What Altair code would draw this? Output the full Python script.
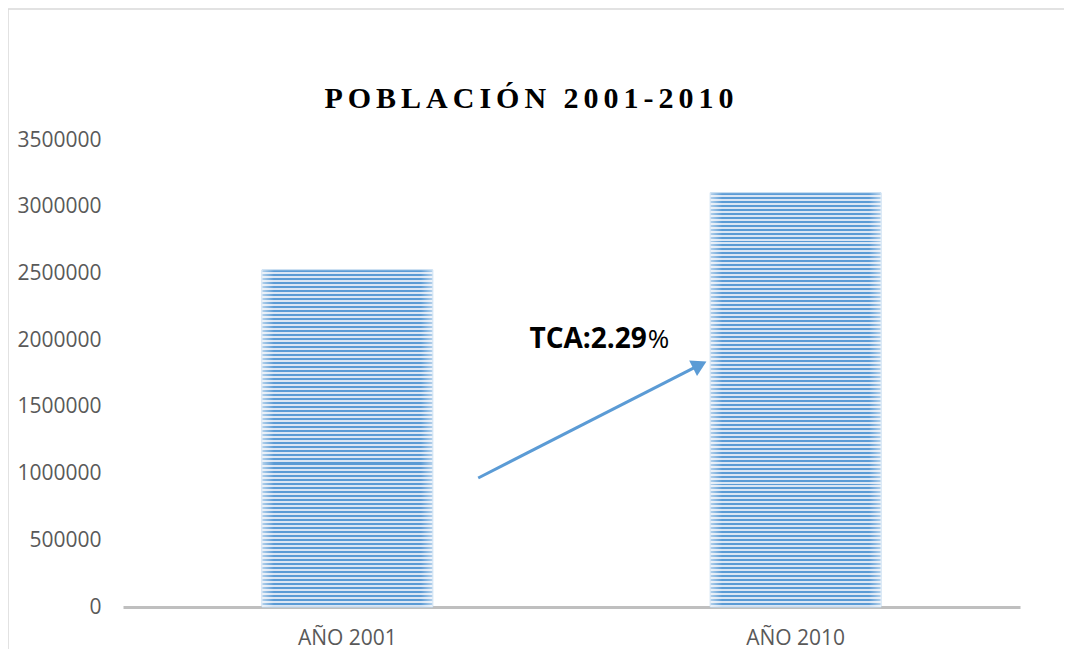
import altair as alt
import pandas as pd

# ---- data ----
categories = ["AÑO 2001", "AÑO 2010"]
population = [2527000, 3105000]
y_ticks = [0, 500000, 1000000, 1500000, 2000000, 2500000, 3000000, 3500000]

arrow_x = [0.396, 0.643]          # fraction of plot width
arrow_y = [967000, 1815000]       # population units
label_x = [0.584]
label_y = [2000000]
title_text_plain = "POBLACIÓN 2001-2010"

W, H = 897, 467
YMAX = 3500000
BLUE = "#5b9bd5"
PALE = "#dbe6f4"

def stripes(value):
    h = value / YMAX * H
    n = max(1, int(round(h / 4.0)))
    stops = [{"offset": 0, "color": "#c5d9ef"}, {"offset": 0.4 / h, "color": "#c5d9ef"}]
    for i in range(n):
        a = i / n
        m = (i + 0.5) / n
        b = (i + 1) / n
        if i == 0:
            a = 0.4 / h
        stops += [
            {"offset": a, "color": BLUE}, {"offset": m, "color": BLUE},
            {"offset": m, "color": PALE}, {"offset": b, "color": PALE},
        ]
    return alt.Gradient(gradient="linear", x1=0, y1=0, x2=0, y2=1, stops=stops)

edge_fade = alt.Gradient(
    gradient="linear", x1=0, y1=0, x2=1, y2=0,
    stops=[
        {"offset": 0, "color": "rgba(255,255,255,0.55)"},
        {"offset": 0.07, "color": "rgba(255,255,255,0)"},
        {"offset": 0.93, "color": "rgba(255,255,255,0)"},
        {"offset": 1, "color": "rgba(255,255,255,0.55)"},
    ],
)

bars_df = pd.DataFrame({"cat": categories, "pop": population})

yaxis = alt.Axis(
    values=y_ticks, format="d", labelFont="Open Sans", labelFontSize=21,
    labelColor="#595959", labelPadding=22, ticks=False, domain=False, grid=False,
)
yscale = alt.Scale(domain=[0, YMAX], nice=False)

xenc = alt.X(
    "cat:N", sort=categories, title=None,
    scale=alt.Scale(paddingInner=0.619, paddingOuter=0.31),
    axis=alt.Axis(
        labelAngle=0, labelFont="Open Sans", labelFontSize=21, labelColor="#595959",
        labelPadding=20, ticks=False, domainColor="#bfbfbf", domainWidth=3,
        labelBaseline="top",
    ),
)
yenc = alt.Y("pop:Q", title=None, scale=yscale, axis=yaxis)

bar_layers = []
for c, v in zip(categories, population):
    bar_layers.append(
        alt.Chart(bars_df).transform_filter(alt.datum.cat == c)
        .mark_bar(fill=stripes(v), stroke="#bdd7ee", strokeWidth=1)
        .encode(x=xenc, y=yenc)
    )
fade = alt.Chart(bars_df).mark_bar(fill=edge_fade).encode(x=xenc, y=yenc)

bars = alt.layer(*bar_layers, fade)

# ---- annotation layer (independent x) ----
ax = alt.X("x:Q", scale=alt.Scale(domain=[0, 1]), axis=None)
ay = alt.Y("y:Q", title=None, scale=yscale, axis=yaxis)

arrow_df = pd.DataFrame({"x": [arrow_x[0]], "y": [arrow_y[0]], "x2": [arrow_x[1]], "y2": [arrow_y[1]]})
arrow_line = alt.Chart(arrow_df).mark_rule(color=BLUE, strokeWidth=3).encode(
    x=ax, y=ay, x2="x2:Q", y2="y2:Q"
)
head_df = pd.DataFrame({"x": [arrow_x[1]], "y": [arrow_y[1]]})
arrow_head = alt.Chart(head_df).mark_point(
    shape="triangle-up", filled=True, color=BLUE, opacity=1, size=300, angle=63
).encode(x=ax, y=ay)

lab_df = pd.DataFrame({"x": label_x, "y": label_y})
lab_bold = alt.Chart(lab_df).mark_text(
    text="TCA:2.29", font="Open Sans", fontWeight="bold", fontSize=28,
    align="right", baseline="middle", color="black",
).encode(x=ax, y=ay)
lab_pct = alt.Chart(lab_df).mark_text(
    text="%", font="Open Sans", fontWeight="normal", fontSize=26,
    align="left", baseline="middle", color="black", dx=1,
).encode(x=ax, y=ay)

T = "\u2006"
words = title_text_plain.split(" ")
title_text = (T + " " + T).join(T.join(w) for w in words)

title_df = pd.DataFrame({"t": [title_text]})
title_mark = alt.Chart(title_df).mark_text(
    font="Liberation Serif", fontWeight="bold", fontSize=30, color="black",
    align="center", baseline="alphabetic",
).encode(text="t:N", x=alt.value(406), y=alt.value(-32))

frame_top = alt.Chart(head_df).mark_rule(color="#d9d9d9", strokeWidth=1.5).encode(
    x=alt.value(-115), x2=alt.value(960), y=alt.value(-131)
)
frame_left = alt.Chart(head_df).mark_rule(color="#d9d9d9", strokeWidth=1.5).encode(
    x=alt.value(-115), y=alt.value(-131), y2=alt.value(520)
)

annot = alt.layer(arrow_line, arrow_head, lab_bold, lab_pct, title_mark, frame_top, frame_left)

chart = (
    alt.layer(bars, annot)
    .resolve_scale(x="independent")
    .properties(
        width=W, height=H,
        autosize=alt.AutoSizeParams(type="none"),
        padding={"left": 115, "top": 132, "right": 44, "bottom": 42},
        view=alt.ViewBackground(stroke="transparent"),
    )
    .configure_view(stroke="transparent")
    .configure(background="white")
)

chart.save("out.html", embed_options={"renderer": "svg", "actions": False})
